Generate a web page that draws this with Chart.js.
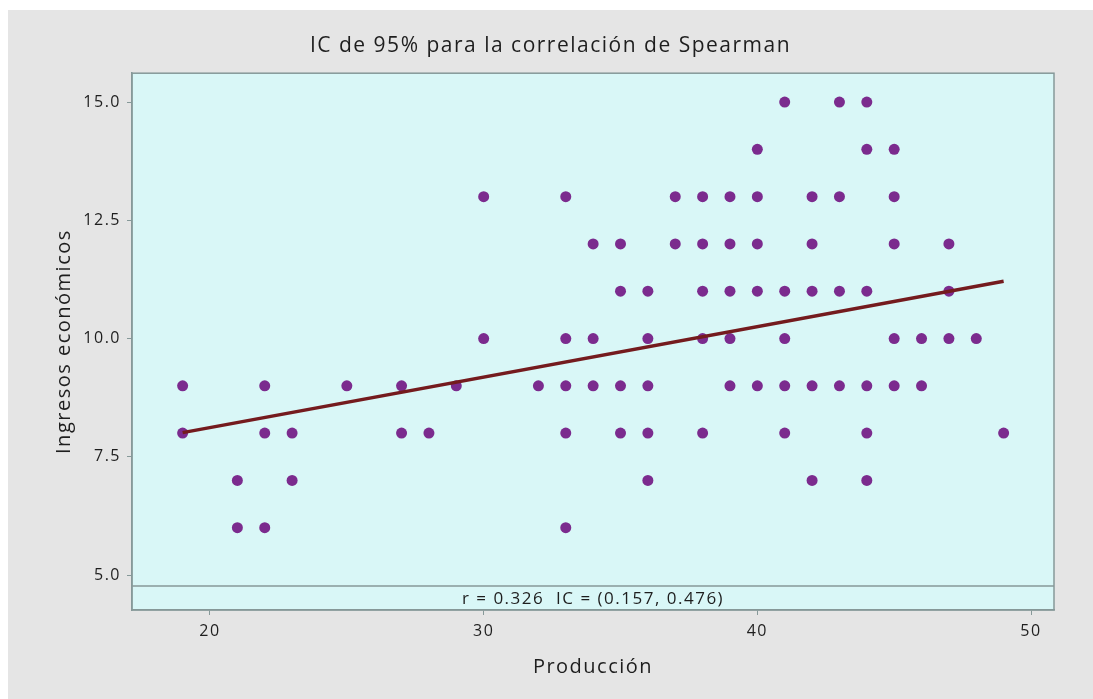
<!DOCTYPE html>
<html>
<head>
<meta charset="utf-8">
<script src="https://cdn.jsdelivr.net/npm/chart.js@4.4.1/dist/chart.umd.min.js"></script>
<style>
html, body { margin: 0; padding: 0; background: #ffffff; }
#wrap { position: absolute; left: 8px; top: 10px; width: 1085px; height: 689px; background: #e5e5e5; }
</style>
</head>
<body>
<div id="wrap"><canvas id="myChart"></canvas></div>
<script>
// data (one entry per dot)
const produccion = [
    41, 43, 44,
    40, 44, 45,
    30, 33, 37, 38, 39, 40, 42, 43, 45,
    34, 35, 37, 38, 39, 40, 42, 45, 47,
    35, 36, 38, 39, 40, 41, 42, 43, 44, 47,
    30, 33, 34, 36, 38, 39, 41, 45, 46, 47, 48,
    19, 22, 25, 27, 29, 32, 33, 34, 35, 36, 39, 40, 41, 42, 43, 44, 45, 46,
    19, 22, 23, 27, 28, 33, 35, 36, 38, 41, 44, 49,
    21, 23, 36, 42, 44,
    21, 22, 33
]
const ingresos = [
    15, 15, 15,
    14, 14, 14,
    13, 13, 13, 13, 13, 13, 13, 13, 13,
    12, 12, 12, 12, 12, 12, 12, 12, 12,
    11, 11, 11, 11, 11, 11, 11, 11, 11, 11,
    10, 10, 10, 10, 10, 10, 10, 10, 10, 10, 10,
    9, 9, 9, 9, 9, 9, 9, 9, 9, 9, 9, 9, 9, 9, 9, 9, 9, 9,
    8, 8, 8, 8, 8, 8, 8, 8, 8, 8, 8, 8,
    7, 7, 7, 7, 7,
    6, 6, 6
]
// fitted line ends
const trendX = [19, 49]
const trendY = [8.01, 11.21]

const xTicks = [20, 30, 40, 50]
const yTicks = [5, 7.5, 10, 12.5, 15]
const bandTop = 4.77
const statsText = 'r = 0.326  IC = (0.157, 0.476)'

const textColor = '#1e1e1e'
const lineGray = '#869999'
const spacing = '1.5px'

const points = produccion.map((p, i) => ({ x: p, y: ingresos[i] }))
const trend = trendX.map((p, i) => ({ x: p, y: trendY[i] }))

// background, frame and the r / IC band
const frame = {
    id: 'frame',
    beforeLayout(chart) {
        chart.ctx.letterSpacing = spacing
    },
    beforeDraw(chart) {
        const { ctx, chartArea: a } = chart
        ctx.save()
        ctx.fillStyle = '#d9f7f7'
        ctx.fillRect(a.left, a.top, a.right - a.left, a.bottom - a.top)
        ctx.restore()
        ctx.letterSpacing = spacing
    },
    beforeDatasetsDraw(chart) {
        const { ctx, chartArea: a, scales } = chart
        const yBand = scales.y.getPixelForValue(bandTop)
        ctx.save()
        ctx.strokeStyle = lineGray
        ctx.lineWidth = 1.5
        ctx.beginPath()
        ctx.moveTo(a.left, yBand)
        ctx.lineTo(a.right, yBand)
        ctx.stroke()
        ctx.strokeRect(a.left, a.top, a.right - a.left, a.bottom - a.top)
        ctx.fillStyle = textColor
        ctx.font = '17px "Open Sans"'
        ctx.letterSpacing = spacing
        ctx.textAlign = 'center'
        ctx.textBaseline = 'middle'
        ctx.fillText(statsText, (a.left + a.right) / 2, (yBand + a.bottom) / 2 + 1)
        ctx.restore()
    }
}

const data = {
    datasets: [{
        type: 'scatter',
        label: 'Ingresos',
        data: points,
        backgroundColor: '#7b2b8e',
        borderColor: '#7b2b8e',
        pointRadius: 5.5,
        pointBorderWidth: 0,
        order: 2
    }, {
        type: 'line',
        label: 'Ajuste',
        data: trend,
        borderColor: '#741b1e',
        borderWidth: 3.5,
        pointRadius: 0,
        order: 1
    }]
}

const config = {
    data,
    options: {
        responsive: true,
        maintainAspectRatio: false,
        animation: false,
        layout: { padding: 0 },
        plugins: {
            legend: { display: false },
            tooltip: { enabled: false },
            title: {
                display: true,
                text: 'IC de 95% para la correlación de Spearman',
                color: textColor,
                font: { family: 'Open Sans', size: 21, weight: 'normal' },
                padding: { top: 23, bottom: 15 }
            }
        },
        scales: {
            x: {
                type: 'linear',
                min: 17.15,
                max: 50.84,
                afterBuildTicks: scale => { scale.ticks = xTicks.map(v => ({ value: v })) },
                afterFit: scale => { scale.height = 89 },
                grid: { display: true, drawOnChartArea: false, color: lineGray, tickLength: 5 },
                border: { display: true, color: lineGray, width: 1.5 },
                ticks: {
                    color: textColor,
                    padding: 7,
                    maxRotation: 0,
                    font: { family: 'Open Sans', size: 16 }
                },
                title: {
                    display: true,
                    text: 'Producción',
                    color: textColor,
                    font: { family: 'Open Sans', size: 20 },
                    padding: { top: 0, bottom: 20 }
                }
            },
            y: {
                type: 'linear',
                min: 4.26,
                max: 15.61,
                afterBuildTicks: scale => { scale.ticks = yTicks.map(v => ({ value: v })) },
                afterFit: scale => { scale.width = 124 },
                grid: { display: true, drawOnChartArea: false, color: lineGray, tickLength: 5 },
                border: { display: true, color: lineGray, width: 1.5 },
                ticks: {
                    color: textColor,
                    padding: 6,
                    font: { family: 'Open Sans', size: 16 },
                    callback: v => Number(v).toFixed(1)
                },
                title: {
                    display: true,
                    text: 'Ingresos económicos',
                    color: textColor,
                    font: { family: 'Open Sans', size: 20 },
                    padding: { top: 44, bottom: 0 }
                }
            },
            // empty right-hand strip so the title centres on the whole window
            yRight: {
                type: 'linear',
                position: 'right',
                display: true,
                grid: { display: false },
                border: { display: false },
                ticks: { display: false },
                afterFit: scale => { scale.width = 39 }
            }
        }
    },
    plugins: [frame]
}

const myChart = new Chart(document.getElementById('myChart'), config)
</script>
</body>
</html>
